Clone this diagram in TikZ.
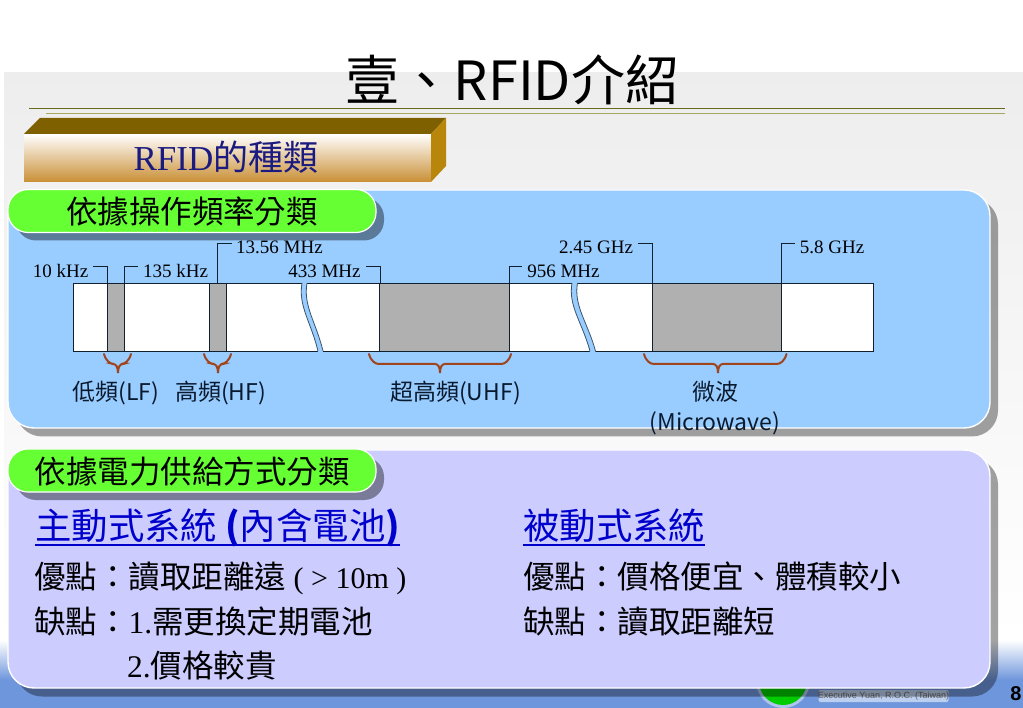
\documentclass[tikz,border=0pt]{standalone}
\usepackage{fontspec}
\usetikzlibrary{shadows}
\setmainfont{Noto Sans CJK TC}
\newfontfamily\ser{Liberation Serif}
\newfontfamily\san{Liberation Sans}
\newcommand{\fs}[1]{\fontsize{#1}{#1}\selectfont}
\definecolor{panelblue}{HTML}{99CCFF}
\definecolor{panelpurple}{HTML}{CCCCFF}
\definecolor{pillgreen}{HTML}{66FF33}
\definecolor{bracecol}{HTML}{A0441C}
\definecolor{linkblue}{HTML}{0000CC}
\definecolor{navy}{HTML}{1A1A80}
\definecolor{bandblue}{HTML}{6E96DC}
\definecolor{rulea}{HTML}{6B6B1E}
\definecolor{ruleb}{HTML}{A8A860}
\definecolor{barline}{HTML}{10202E}
\definecolor{labelink}{HTML}{0A1A2E}
\definecolor{boxfront}{HTML}{C98F35}
\definecolor{boxtop}{HTML}{7F6000}
\definecolor{boxside}{HTML}{B8860B}
\tikzset{
  x=1pt,y=-1pt,
  panel/.style={rectangle,rounded corners=26pt,draw=white,line width=1.4pt,minimum width=982pt,minimum height=238pt,inner sep=0pt,
    drop shadow={shadow xshift=8pt,shadow yshift=-8.5pt,fill=black,opacity=.36}},
  pill/.style={rectangle,rounded corners=20pt,draw=white,line width=1.2pt,fill=pillgreen,minimum width=368pt,minimum height=43pt,inner sep=0pt,
    drop shadow={shadow xshift=8pt,shadow yshift=-8pt,fill=black,opacity=.4}},
  txt/.style={inner sep=0pt,anchor=base west,text=black},
  pilltxt/.style={inner sep=0pt,anchor=base,text=black,font=\fs{31.5}},
  freq/.style={inner sep=0pt,anchor=base,text=black,font=\ser\fs{19}},
  band/.style={inner sep=0pt,anchor=base,text=labelink,font=\fs{23}},
  body/.style={txt,font=\fs{31.5}},
  head/.style={txt,font=\fs{36.4},text=linkblue},
  whiteseg/.style={fill=white,draw=barline,line width=.9pt},
  grayseg/.style={fill=black!31,draw=barline,line width=.9pt},
  leader/.style={draw=barline,line width=.9pt},
  brk/.style={draw=barline!70!panelblue,line width=.8pt},
  bracepath/.style={draw=bracecol,line width=2pt,line cap=round},
}
\newcommand{\cbrace}[3]{%
  \draw[bracepath] (#1,354) .. controls (#1+2,361) and (#1+6,364) .. (#1+10,364)
     -- (#2-5,364) .. controls (#2-2,364) and (#2,367) .. (#2,373)
     .. controls (#2,367) and (#2+2,364) .. (#2+5,364)
     -- (#3-10,364) .. controls (#3-6,364) and (#3-2,361) .. (#3,354);}
\begin{document}
\begin{tikzpicture}
\useasboundingbox (0,0) rectangle (1023,708);
% slide background
\fill[white] (0,0) rectangle (1023,708);
\shade[top color=black!7,bottom color=white] (4,73) rectangle (1023,640);
\shade[top color=white,bottom color=bandblue] (0,640) rectangle (1023,680);
\fill[bandblue] (0,680) rectangle (1023,708);
\draw[rulea,line width=.9pt] (29,108) -- (1005,108);
\draw[ruleb,line width=.9pt] (46,113) -- (1005,113);
% footer
\fill[white,opacity=.45] (783,681) circle (27);
\fill[green!80!black] (783,681) circle (24);
\node[fill=white,fill opacity=.55,rounded corners=2pt,inner sep=0pt,minimum width=130pt,minimum height=12pt] (footbg) at (883.5,696) {};
\node[inner sep=0pt,text=black!60,font=\san\fs{9}] (foot) at (883.5,696) {Executive Yuan, R.O.C. (Taiwan)};
\node[inner sep=0pt,anchor=base,font=\san\bfseries\fs{20}] (page) at (1016,700) {8};
% title
\node[inner sep=0pt,anchor=base,font=\fs{54},text=black] (title) at (512.5,101) {壹、RFID介紹};
% 3D box
\shade[top color=white,bottom color=boxfront] (24,134) rectangle (431,182);
\fill[boxtop] (24,134) -- (40,118) -- (446,118) -- (431,134) -- cycle;
\fill[boxside] (431,134) -- (446,118) -- (446,166) -- (431,182) -- cycle;
\node[inner sep=0pt,anchor=base,text=navy,font=\fs{35}] (boxtxt) at (226,171) {{\ser RFID}的種類};
% panels
\node[panel,fill=panelblue] (p1) at (499,309) {};
\node[panel,fill=panelpurple] (p2) at (499,569) {};
\node[pill] (g1) at (192,211) {};
\node[pilltxt] (g1t) at (192,224) {依據操作頻率分類};
\node[pill] (g2) at (192,470.5) {};
\node[pilltxt] (g2t) at (192,483) {依據電力供給方式分類};
% frequency bar
\coordinate (a) at (73,283); \coordinate (b) at (873,351);
\path[whiteseg] (a) rectangle (b);
\path[grayseg] (107,283) rectangle (124,351);
\path[grayseg] (209,283) rectangle (226,351);
\path[grayseg] (379.5,283) rectangle (509.5,351);
\path[grayseg] (652,283) rectangle (781,351);
% breaks
\fill[panelblue] (302,282) .. controls (298,306) and (311,322) .. (318,352) -- (323,352) .. controls (316,322) and (303,306) .. (307,282) -- cycle;
\draw[brk] (302,283) .. controls (298,306) and (311,322) .. (318,351);
\draw[brk] (307,283) .. controls (303,306) and (316,322) .. (323,351);
\fill[panelblue] (572,282) .. controls (568,306) and (582,322) .. (590,352) -- (595.5,352) .. controls (587.5,322) and (573.5,306) .. (577.5,282) -- cycle;
\draw[brk] (572,283) .. controls (568,306) and (582,322) .. (590,351);
\draw[brk] (577.5,283) .. controls (573.5,306) and (587.5,322) .. (595.5,351);
% leaders and labels
\node[freq] (f10) at (60.5,278) {10 kHz};
\node[freq] (f135) at (175.5,278) {135 kHz};
\node[freq] (f13) at (279.5,254) {13.56 MHz};
\node[freq] (f433) at (324.5,278) {433 MHz};
\node[freq] (f956) at (563.5,278) {956 MHz};
\node[freq] (f245) at (596,254) {2.45 GHz};
\node[freq] (f58) at (832,254) {5.8 GHz};
\draw[leader] (107,283) -- (107,266) -- (93,266);
\draw[leader] (124,283) -- (124,266) -- (138,266);
\draw[leader] (217.5,283) -- (217.5,243) -- (232,243);
\draw[leader] (380,283) -- (380,266) -- (366,266);
\draw[leader] (509.5,283) -- (509.5,266) -- (522,266);
\draw[leader] (652,283) -- (652,243) -- (638,243);
\draw[leader] (781,283) -- (781,243) -- (795,243);
% braces
\cbrace{104}{118}{131}
\cbrace{204}{218}{231}
\cbrace{369}{440}{511}
\cbrace{644}{718}{786.5}
\node[band] (lf) at (116,401) {低頻(LF)};
\node[band] (hf) at (220.5,401) {高頻(HF)};
\node[band] (uhf) at (455.5,401) {超高頻(UHF)};
\node[band] (mw) at (715,401) {微波};
\node[band] (mw2) at (715,431) {(Microwave)};
% power section
\node[head] (h1) at (35,539) {主動式系統 {\bfseries(}內含電池{\bfseries)}};
\node[head] (h2) at (523,539) {被動式系統};
\draw[linkblue,line width=1.8pt] ([yshift=-6pt]h1.base west) -- ([yshift=-6pt]h1.base east);
\draw[linkblue,line width=1.8pt] ([yshift=-6pt]h2.base west) -- ([yshift=-6pt]h2.base east);
\node[body] (l1) at (34,588) {優點：讀取距離遠{\ser\fs{30}\ ( > 10m )}};
\node[body] (l2) at (34,633) {缺點：{\ser 1.}需更換定期電池};
\node[body] (l3) at (127,677) {{\ser 2.}價格較貴};
\node[body] (r1) at (523,588) {優點：價格便宜、體積較小};
\node[body] (r2) at (523,633) {缺點：讀取距離短};
\end{tikzpicture}
\end{document}
